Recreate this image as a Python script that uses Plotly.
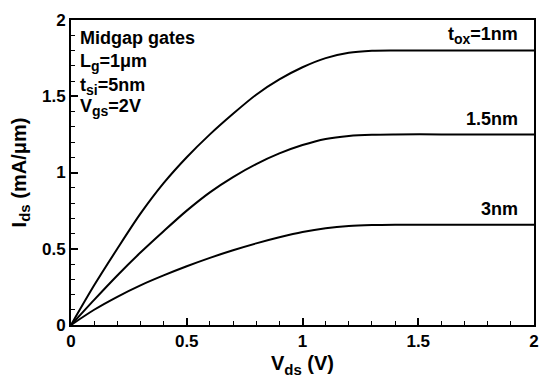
import plotly.graph_objects as go

vds = [0, 0.1, 0.2, 0.3, 0.4, 0.5, 0.6, 0.7, 0.8, 0.9, 1.0, 1.1, 1.2, 1.3, 1.4, 1.6, 1.8, 2.0]
ids_1nm = [0, 0.26, 0.50, 0.73, 0.93, 1.10, 1.25, 1.385, 1.51, 1.61, 1.69, 1.75, 1.785, 1.798, 1.80, 1.80, 1.80, 1.80]
ids_15nm = [0, 0.165, 0.325, 0.475, 0.615, 0.75, 0.87, 0.97, 1.055, 1.125, 1.18, 1.22, 1.24, 1.248, 1.25, 1.25, 1.25, 1.25]
ids_3nm = [0, 0.10, 0.185, 0.26, 0.325, 0.385, 0.44, 0.49, 0.535, 0.575, 0.61, 0.635, 0.65, 0.656, 0.658, 0.658, 0.658, 0.658]

SUB = "<sub><span style='font-size:14px'>{}</span></sub>"
curve_labels = ["t" + SUB.format("ox") + "=1nm", "1.5nm", "3nm"]
info_lines = ["Midgap gates", "L" + SUB.format("g") + "=1\u03bcm", "t" + SUB.format("si") + "=5nm", "V" + SUB.format("gs") + "=2V"]

x_ticks = [0, 0.5, 1, 1.5, 2]
y_ticks = [0, 0.5, 1, 1.5, 2]

FONT = "Liberation Sans, Arial, sans-serif"

fig = go.Figure()
for ys in (ids_1nm, ids_15nm, ids_3nm):
    fig.add_trace(go.Scatter(x=vds, y=ys, mode="lines",
                             line=dict(color="black", width=2, shape="spline", smoothing=0.8),
                             showlegend=False))

axis_common = dict(
    showline=True, mirror=True, linecolor="black", linewidth=2,
    ticks="inside", ticklen=7, tickwidth=1.5, tickcolor="black",
    showgrid=False, zeroline=False,
    tickfont=dict(family=FONT, size=17, color="black", weight="bold"),
    minor=dict(ticks="inside", ticklen=4, tickwidth=1, tickcolor="black", dtick=0.1),
)

fig.update_xaxes(range=[0, 2], tickvals=x_ticks, ticktext=[f"{v:g}" for v in x_ticks],
                 title=dict(text="V" + "<sub><span style='font-size:15px'>ds</span></sub>" + " (V)",
                            font=dict(family=FONT, size=20, color="black", weight="bold"), standoff=6),
                 **axis_common)
fig.update_yaxes(range=[0, 2], tickvals=y_ticks, ticktext=[f"{v:g}" for v in y_ticks],
                 title=dict(text="I" + "<sub><span style='font-size:15px'>ds</span></sub>" + " (mA/\u03bcm)",
                            font=dict(family=FONT, size=20, color="black", weight="bold"), standoff=10),
                 **axis_common)

info_y = [0.94, 0.862, 0.783, 0.712]
for txt, yy in zip(info_lines, info_y):
    fig.add_annotation(text=txt, xref="paper", yref="paper", x=0.015, y=yy,
                       xanchor="left", yanchor="middle", showarrow=False,
                       font=dict(family=FONT, size=18, color="black", weight="bold"))

label_y = [0.949, 0.675, 0.379]
for txt, yy in zip(curve_labels, label_y):
    fig.add_annotation(text=txt, xref="paper", yref="paper", x=0.97, y=yy,
                       xanchor="right", yanchor="middle", showarrow=False,
                       font=dict(family=FONT, size=18, color="black", weight="bold"))

fig.update_layout(
    width=550, height=386,
    margin=dict(l=71, r=13, t=11, b=61),
    paper_bgcolor="white", plot_bgcolor="white",
    font=dict(family=FONT, color="black"),
)

fig.write_html("out.html", config={"displayModeBar": False},
               post_script="document.body.style.margin='0';")
